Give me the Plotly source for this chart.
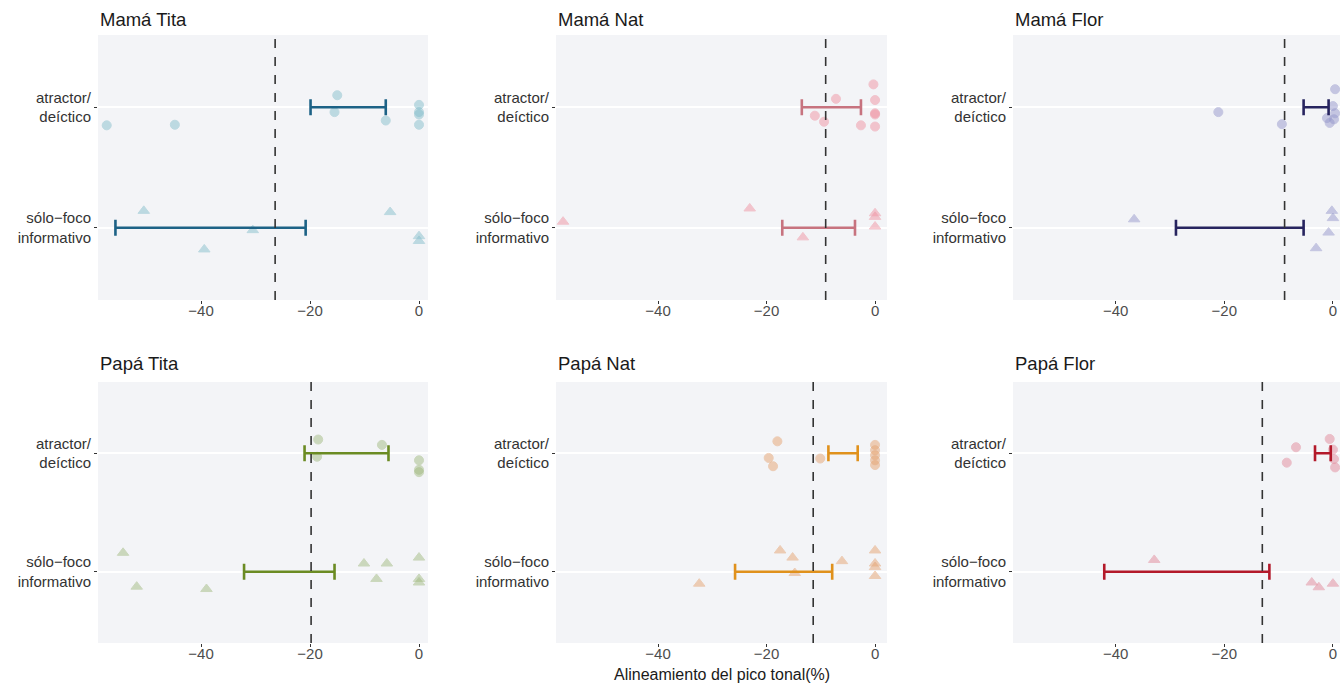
import plotly.graph_objects as go

W, H = 1340, 685

panels = ["Mamá Tita", "Mamá Nat", "Mamá Flor", "Papá Tita", "Papá Nat", "Papá Flor"]
categories = ["atractor/<br>deíctico", "sólo−foco<br>informativo"]
x_ticks = [-40, -20, 0]

# dashed reference line (mean) per panel
means = [-26.4, -9.1, -8.9, -19.8, -11.4, -13.0]

# interval per panel and category
atr_lo = [-19.9, -13.5, -5.4, -21.0, -8.6, -3.3]
atr_hi = [-6.1, -2.6, -0.8, -5.6, -3.2, -0.4]
solo_lo = [-55.7, -17.1, -28.9, -32.1, -25.8, -42.1]
solo_hi = [-20.8, -3.7, -5.4, -15.5, -7.9, -11.7]

mt_atr_x = [-15.0, -15.5, -6.1, 0, 0, 0, 0, -57.3, -44.8]
mt_atr_j = [-0.10, 0.04, 0.11, -0.02, 0.04, 0.06, 0.145, 0.15, 0.145]
mt_solo_x = [-50.5, -5.3, -30.5, -39.4, 0, 0]
mt_solo_j = [-0.14, -0.13, 0.02, 0.18, 0.07, 0.11]

mn_atr_x = [-0.3, -7.2, 0, 0, 0, -11.1, -9.4, -2.6, 0]
mn_atr_j = [-0.19, -0.07, -0.06, 0.05, 0.06, 0.07, 0.12, 0.15, 0.16]
mn_solo_x = [-57.5, -23.1, 0, 0, 0, -13.3]
mn_solo_j = [-0.05, -0.16, -0.12, -0.09, -0.01, 0.08]

mf_atr_x = [0.4, -21.1, -9.4, -1.1, -0.6, 0, 0.4, 0.2]
mf_atr_j = [-0.15, 0.04, 0.14, 0.09, 0.13, -0.01, 0.05, 0.10]
mf_solo_x = [-36.6, -0.2, 0, -0.8, -3.1]
mf_solo_j = [-0.07, -0.14, -0.08, 0.04, 0.17]

pt_atr_x = [-18.5, -18.7, -6.8, 0, 0, 0]
pt_atr_j = [-0.115, 0.03, -0.07, 0.06, 0.14, 0.16]
pt_solo_x = [-54.3, -51.8, -39.0, -10.1, -5.9, -7.8, 0, 0, 0]
pt_solo_j = [-0.16, 0.125, 0.145, -0.07, -0.07, 0.06, -0.12, 0.06, 0.09]

pn_atr_x = [-18.0, -19.6, -18.8, -10.1, 0, 0, 0, 0, 0]
pn_atr_j = [-0.10, 0.04, 0.11, 0.045, -0.07, -0.025, 0.017, 0.06, 0.10]
pn_solo_x = [-17.5, -15.2, -14.8, -32.4, -6.1, 0, 0, 0, 0]
pn_solo_j = [-0.18, -0.12, 0.01, 0.10, -0.09, -0.18, -0.07, -0.04, 0.035]

pf_atr_x = [-6.8, -8.5, -0.6, 0, 0.2, 0.4]
pf_atr_j = [-0.05, 0.08, -0.12, -0.03, 0.05, 0.12]
pf_solo_x = [-32.9, -3.9, -2.6, 0]
pf_solo_j = [-0.10, 0.09, 0.13, 0.10]

bar_colors = ["#1d6286", "#c7737f", "#27245f", "#6b8b23", "#e0911c", "#b3192a"]
point_colors = ["#86bfcc", "#f094a3", "#9698cc", "#a3bb82", "#e6a472", "#e3899a"]

atr_pts = [(mt_atr_x, mt_atr_j), (mn_atr_x, mn_atr_j), (mf_atr_x, mf_atr_j),
           (pt_atr_x, pt_atr_j), (pn_atr_x, pn_atr_j), (pf_atr_x, pf_atr_j)]
solo_pts = [(mt_solo_x, mt_solo_j), (mn_solo_x, mn_solo_j), (mf_solo_x, mf_solo_j),
            (pt_solo_x, pt_solo_j), (pn_solo_x, pn_solo_j), (pf_solo_x, pf_solo_j)]

# layout geometry (pixels)
col_px = [(98, 428), (556, 887), (1013, 1340)]
row_px = [(35, 300), (382, 643)]
x_ranges = [[-58.9, 1.65], [-58.8, 2.2], [-58.9, 1.3]]
title_y_px = [20, 363]

FONT = "Liberation Sans, Arial, Helvetica, sans-serif"

fig = go.Figure()
layout = dict(
    width=W, height=H,
    margin=dict(l=0, r=0, t=0, b=0),
    paper_bgcolor="white",
    plot_bgcolor="#f3f4f7",
    showlegend=False,
    font=dict(family=FONT, color="#333333"),
    annotations=[], shapes=[],
)

for i, name in enumerate(panels):
    r, c = divmod(i, 3)
    ax = "" if i == 0 else str(i + 1)
    xa, ya = "x" + ax, "y" + ax
    x0, x1 = col_px[c]
    y0, y1 = row_px[r]
    layout["xaxis" + ax] = dict(
        domain=[x0 / W, x1 / W], anchor=ya, range=x_ranges[c],
        tickvals=x_ticks, showgrid=False, zeroline=False, showline=False,
        ticks="outside", ticklen=3, tickwidth=1, tickcolor="#333333",
        ticklabelstandoff=-6,
        tickfont=dict(size=15, color="#4d4d4d", family=FONT),
    )
    layout["yaxis" + ax] = dict(
        domain=[1 - y1 / H, 1 - y0 / H], anchor=xa, range=[2.6, 0.4],
        tickvals=[1, 2], ticktext=categories,
        showgrid=True, gridcolor="white", gridwidth=2, zeroline=False,
        showline=False, ticks="outside", ticklen=3, tickwidth=1, tickcolor="#333333",
        tickfont=dict(size=15, color="#333333", family=FONT),
    )
    pc = point_colors[i]
    ax_, aj = atr_pts[i]
    fig.add_trace(go.Scatter(
        x=ax_, y=[1 + j for j in aj], xaxis=xa, yaxis=ya, mode="markers",
        marker=dict(symbol="circle", size=9, color=pc, opacity=0.5,
                    line=dict(color=pc, width=1)),
        hoverinfo="x",
    ))
    sx, sj = solo_pts[i]
    fig.add_trace(go.Scatter(
        x=sx, y=[2 + j for j in sj], xaxis=xa, yaxis=ya, mode="markers",
        marker=dict(symbol="triangle-up", size=10, color=pc, opacity=0.5,
                    line=dict(color=pc, width=1)),
        hoverinfo="x",
    ))
    # intervals
    lo = [atr_lo[i], solo_lo[i]]
    hi = [atr_hi[i], solo_hi[i]]
    mid = [(a + b) / 2 for a, b in zip(lo, hi)]
    half = [(b - a) / 2 for a, b in zip(lo, hi)]
    fig.add_trace(go.Scatter(
        x=mid, y=[1, 2], xaxis=xa, yaxis=ya, mode="markers",
        marker=dict(size=1, opacity=0),
        error_x=dict(type="data", array=half, symmetric=True,
                     color=bar_colors[i], thickness=2.6, width=8),
        hoverinfo="skip",
    ))
    layout["shapes"].append(dict(
        type="line", xref=xa, yref=ya + " domain", x0=means[i], x1=means[i],
        y0=0, y1=1, line=dict(color="#333333", width=1.6, dash="dash"),
    ))
    layout["annotations"].append(dict(
        text=name, xref="paper", yref="paper", x=x0 / W, y=1 - title_y_px[r] / H,
        xanchor="left", yanchor="middle", showarrow=False,
        font=dict(size=18.5, color="#1a1a1a", family=FONT),
    ))

layout["annotations"].append(dict(
    text="Alineamiento del pico tonal(%)", xref="paper", yref="paper",
    x=(556 + 887) / 2 / W, y=1 - 674 / H, xanchor="center", yanchor="middle",
    showarrow=False, font=dict(size=16, color="#1a1a1a", family=FONT),
))

fig.update_layout(**layout)
fig.write_html("out.html")
